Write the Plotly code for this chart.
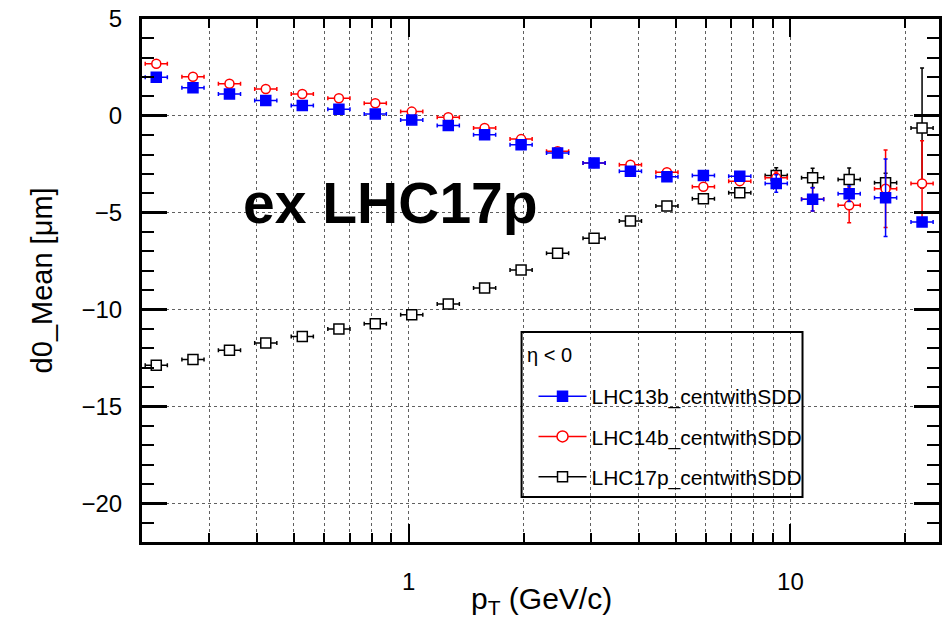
import numpy as np
import plotly.graph_objects as go

# ---------------- data ----------------
pt = [0.218, 0.272, 0.339, 0.422, 0.526, 0.656, 0.817, 1.018, 1.269, 1.580, 1.969,
      2.454, 3.058, 3.808, 4.746, 5.914, 7.365, 9.178, 11.43, 14.25, 17.75, 22.12]
pt_halfwidth_dex = 0.029  # half width of the pT bins in decades

d0_13b = [1.99, 1.45, 1.13, 0.79, 0.53, 0.34, 0.10, -0.21, -0.50, -0.98, -1.49,
          -1.92, -2.43, -2.86, -3.15, -3.08, -3.12, -3.49, -4.31, -4.02, -4.23, -5.48]
d0_13b_err = [0.05, 0.05, 0.05, 0.05, 0.05, 0.05, 0.05, 0.06, 0.06, 0.07, 0.07,
              0.08, 0.09, 0.10, 0.12, 0.14, 0.20, 0.45, 0.60, 0.40, 2.00, 0.15]

d0_14b = [2.69, 2.02, 1.66, 1.39, 1.13, 0.91, 0.65, 0.22, -0.07, -0.63, -1.20,
          -1.83, -2.43, -2.52, -2.91, -3.66, -3.37, -3.20, -4.31, -4.62, -3.76, -3.49]
d0_14b_err = [0.06, 0.06, 0.06, 0.06, 0.06, 0.06, 0.06, 0.07, 0.07, 0.08, 0.08,
              0.09, 0.10, 0.11, 0.13, 0.15, 0.20, 0.30, 0.60, 0.90, 2.00, 2.20]

d0_17p = [-12.88, -12.58, -12.10, -11.73, -11.39, -11.00, -10.73, -10.27, -9.71, -8.89, -7.96,
          -7.09, -6.32, -5.43, -4.66, -4.28, -3.97, -3.08, -3.20, -3.29, -3.46, -0.63]
d0_17p_err = [0.05, 0.05, 0.05, 0.05, 0.05, 0.05, 0.05, 0.05, 0.06, 0.06, 0.07,
              0.08, 0.09, 0.10, 0.12, 0.15, 0.20, 0.40, 0.50, 0.60, 0.50, 3.10]

series_names = ["LHC13b_centwithSDD", "LHC14b_centwithSDD", "LHC17p_centwithSDD"]
x_major_ticks = [1, 10]
x_major_text = ["1", "10"]
x_minor_ticks = [0.3, 0.4, 0.5, 0.6, 0.7, 0.8, 0.9, 2, 3, 4, 5, 6, 7, 8, 9, 20]
y_ticks = [-20, -15, -10, -5, 0, 5]

# ---------------- figure ----------------
W, H = 942, 626
ML, MR, MT, MB = 142, 0, 19, 84
FONT = "Liberation Sans"

pt_arr = np.array(pt)
ex_plus = pt_arr * (10 ** pt_halfwidth_dex - 1)
ex_minus = pt_arr * (1 - 10 ** -pt_halfwidth_dex)

fig = go.Figure()

styles = [
    # (y, err, name, color, symbol, fill, size)
    (d0_17p, d0_17p_err, series_names[2], "black", "square", "white", 10),
    (d0_14b, d0_14b_err, series_names[1], "#ff0000", "circle", "white", 9),
    (d0_13b, d0_13b_err, series_names[0], "#0000ff", "square", "#0000ff", 10),
]

for y, err, name, col, sym, fill, size in styles:
    fig.add_trace(go.Scatter(
        x=pt, y=y, mode="markers", name=name, showlegend=False,
        marker=dict(symbol=sym, size=size, color=fill, line=dict(color=col, width=1.5)),
        error_x=dict(type="data", symmetric=False, array=ex_plus, arrayminus=ex_minus,
                     color=col, thickness=1.5, width=2),
        error_y=dict(type="data", array=err, color=col, thickness=1.5, width=2),
    ))

# legend-only entries (in legend order)
leg = [
    (series_names[0], "#0000ff", "square", "#0000ff", 10),
    (series_names[1], "#ff0000", "circle", "white", 11),
    (series_names[2], "black", "square", "white", 10),
]
for i, (name, col, sym, fill, size) in enumerate(leg):
    fig.add_trace(go.Scatter(
        x=[None], y=[None], mode="lines+markers", name=name, legendgroup=f"g{i}",
        line=dict(color=col, width=1.5),
        marker=dict(symbol=sym, size=size, color=fill, line=dict(color=col, width=1.5)),
    ))

def px_to_paper_x(px):
    return (px - ML) / (W - ML - MR)

def px_to_paper_y(py):
    return 1 - (py - MT) / (H - MT - MB)

grid = dict(showgrid=True, gridcolor="#606060", griddash="dot", gridwidth=1)

fig.update_xaxes(
    type="log", range=[np.log10(0.2), np.log10(24.5)],
    tickmode="array", tickvals=x_major_ticks, ticktext=x_major_text,
    ticks="inside", ticklen=18, tickwidth=2, tickcolor="black",
    showline=True, linewidth=3, linecolor="black", mirror="ticks",
    zeroline=False, **grid,
    minor=dict(tickmode="array", tickvals=x_minor_ticks, ticks="inside",
               ticklen=9, tickwidth=2, tickcolor="black", **grid),
    tickfont=dict(family=FONT, size=24, color="black"),
    ticklabelstandoff=16,
)
fig.update_yaxes(
    range=[-22, 5], tickmode="array", tickvals=y_ticks,
    ticks="inside", ticklen=25, tickwidth=2.5, tickcolor="black",
    showline=True, linewidth=3, linecolor="black", mirror="ticks",
    zeroline=False, **grid,
    minor=dict(dtick=1, ticks="inside", ticklen=12, tickwidth=2,
               tickcolor="black", showgrid=False),
    tickfont=dict(family=FONT, size=24, color="black"),
    ticklabelstandoff=12,
)

fig.update_layout(
    width=W, height=H,
    margin=dict(l=ML, r=MR, t=MT, b=MB, pad=0),
    paper_bgcolor="white", plot_bgcolor="white",
    font=dict(family=FONT, color="black"),
    legend=dict(
        x=px_to_paper_x(535), y=px_to_paper_y(376), xanchor="left", yanchor="top",
        bgcolor="rgba(0,0,0,0)", borderwidth=0,
        font=dict(family=FONT, size=21, color="black"),
        itemwidth=48, tracegroupgap=10, itemsizing="trace",
    ),
    shapes=[dict(
        type="rect", xref="paper", yref="paper",
        x0=px_to_paper_x(523), x1=px_to_paper_x(805),
        y0=px_to_paper_y(497), y1=px_to_paper_y(332),
        line=dict(color="black", width=2), fillcolor="rgba(0,0,0,0)", layer="above",
    )],
    annotations=[
        dict(text="η < 0", xref="paper", yref="paper",
             x=px_to_paper_x(526), y=px_to_paper_y(355),
             showarrow=False, xanchor="left", yanchor="middle",
             font=dict(family=FONT, size=20, color="black")),
        dict(text="d0_Mean [μm]", xref="paper", yref="paper",
             x=px_to_paper_x(42), y=px_to_paper_y(280), textangle=-90,
             showarrow=False, xanchor="center", yanchor="middle",
             font=dict(family=FONT, size=29, color="black")),
        dict(text="p<sub>T</sub> (GeV/c)", xref="paper", yref="paper",
             x=px_to_paper_x(543), y=px_to_paper_y(600),
             showarrow=False, xanchor="center", yanchor="middle",
             font=dict(family=FONT, size=30, color="black")),
        dict(text="<b>ex LHC17p</b>", xref="paper", yref="paper",
             x=px_to_paper_x(241), y=px_to_paper_y(203),
             showarrow=False, xanchor="left", yanchor="middle",
             font=dict(family=FONT, size=57, color="black")),
    ],
)

fig.write_html("out.html")
